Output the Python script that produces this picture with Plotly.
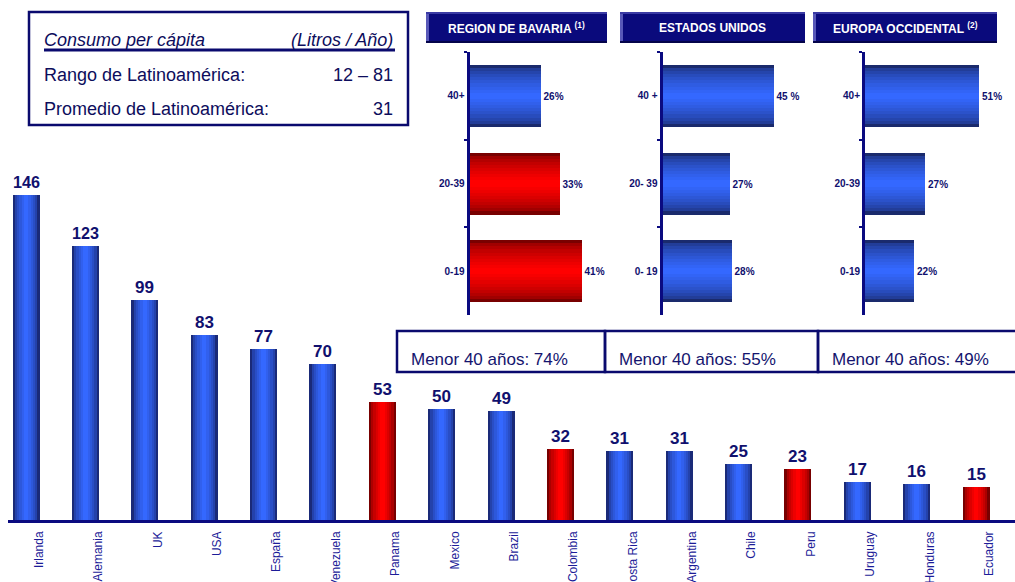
import plotly.graph_objects as go

W, H = 1015, 582

# ---------------- data ----------------
countries = ["Irlanda", "Alemania", "UK", "USA", "España", "Venezuela", "Panama", "Mexico",
             "Brazil", "Colombia", "Costa Rica", "Argentina", "Chile", "Peru", "Uruguay",
             "Honduras", "Ecuador"]
consumo = [146, 123, 99, 83, 77, 70, 53, 50, 49, 32, 31, 31, 25, 23, 17, 16, 15]
bavaria_countries = ["Panama", "Colombia", "Peru", "Ecuador"]

ages_bav = ["0-19", "20-39", "40+"]
share_bav = [41, 33, 26]
text_bav = ["41%", "33%", "26%"]
young_bav = [True, True, False]   # under-40 groups highlighted in red

ages_us = ["0- 19", "20- 39", "40 +"]
share_us = [28, 27, 45]
text_us = ["28%", "27%", "45 %"]
young_us = [False, False, False]

ages_eu = ["0-19", "20-39", "40+"]
share_eu = [22, 27, 51]
text_eu = ["22%", "27%", "51%"]
young_eu = [False, False, False]

panel_titles = ["REGION DE BAVARIA <sup>(1)</sup>", "ESTADOS UNIDOS", "EUROPA OCCIDENTAL <sup>(2)</sup>"]
menor40 = [74, 55, 49]

# ---------------- helpers ----------------
def px(x):
    return x / W

def py(y):
    return 1 - y / H

def hex2rgb(h):
    h = h.lstrip("#")
    return [int(h[i:i + 2], 16) for i in (0, 2, 4)]

def ramp(c0, c1, n, gamma=0.7):
    a, b = hex2rgb(c0), hex2rgb(c1)
    out = []
    for k in range(n):
        t = (k / (n - 1)) ** gamma if n > 1 else 1
        out.append("rgb(%d,%d,%d)" % tuple(round(a[i] + (b[i] - a[i]) * t) for i in range(3)))
    return out

NAVY = "#10106e"
FONT = "Arial, Liberation Sans, sans-serif"

fig = go.Figure()

# ---------------- main bar chart ----------------
main_scale = 59.375  # px per category
x0 = -18 / main_scale
x1 = x0 + (W - 8) / main_scale
n_main = 6
main_widths_px = [27 * (1 - k / n_main) for k in range(n_main)]
blue_main = ramp("#1a2a78", "#3468ff", n_main, 0.6)
red_main = ramp("#780000", "#ff0000", n_main, 0.6)

for li, wpx in enumerate(main_widths_px):
    colors = [red_main[li] if c in bavaria_countries else blue_main[li] for c in countries]
    fig.add_trace(go.Bar(
        x=countries, y=consumo, width=wpx / main_scale,
        marker=dict(color=colors, line=dict(width=0)),
        text=[str(v) for v in consumo] if li == 0 else None,
        textposition="outside" if li == 0 else "none",
        textfont=dict(family=FONT, size=17, color=NAVY, weight="bold"),
        cliponaxis=False, hoverinfo="skip", showlegend=False,
        xaxis="x", yaxis="y",
    ))

# invisible trace carrying the (slightly shifted) category labels
fig.add_trace(go.Scatter(x=countries, y=[0] * len(countries), mode="markers",
                         marker=dict(opacity=0), hoverinfo="skip", showlegend=False,
                         xaxis="x5", yaxis="y"))

# ---------------- small panels ----------------
panels = [
    (ages_bav, share_bav, text_bav, young_bav, 469.5, 2.72, 50, "x2", "y2"),
    (ages_us, share_us, text_us, young_us, 662.5, 2.47, 55, "x3", "y3"),
    (ages_eu, share_eu, text_eu, young_eu, 865, 2.24, 60, "x4", "y4"),
]
P_TOP, P_BOT = 52, 315
cat_px = (P_BOT - P_TOP) / 3
n_pan = 10
panel_widths_px = [62 * (1 - k / n_pan) for k in range(n_pan)]
blue_pan = ramp("#1a2a6c", "#3468ff", n_pan, 0.55)
red_pan = ramp("#780000", "#ff0000", n_pan, 0.55)

for ages, shares, texts, reds, start, scale, rng, xa, ya in panels:
    for li, wpx in enumerate(panel_widths_px):
        cols = [red_pan[li] if r else blue_pan[li] for r in reds]
        fig.add_trace(go.Bar(
            y=ages, x=shares, orientation="h", width=wpx / cat_px,
            marker=dict(color=cols, line=dict(width=0)),
            text=texts if li == 0 else None,
            textposition="outside" if li == 0 else "none",
            textfont=dict(family=FONT, size=10, color=NAVY, weight="bold"),
            cliponaxis=False, hoverinfo="skip", showlegend=False,
            xaxis=xa, yaxis=ya,
        ))

layout_axes = {}
layout_axes["xaxis"] = dict(domain=[px(8), 1], range=[x0, x1], type="category",
                            showticklabels=False, showline=True, linecolor="#0a0a80",
                            linewidth=3, showgrid=False, zeroline=False, ticks="",
                            automargin=False, fixedrange=True)
layout_axes["xaxis5"] = dict(domain=[px(8), 1], range=[x0 - 13 / main_scale, x1 - 13 / main_scale],
                             type="category", overlaying="x", anchor="y", side="bottom",
                             showline=False, showgrid=False, zeroline=False, ticks="",
                             tickangle=-90, ticklabelstandoff=8, automargin=False,
                             tickfont=dict(family=FONT, size=12, color="#1c1c98"))
layout_axes["yaxis"] = dict(domain=[py(520), 1], range=[0, 520 / 2.226], visible=False,
                            automargin=False)

for i, (ages, shares, texts, reds, start, scale, rng, xa, ya) in enumerate(panels):
    n = i + 2
    layout_axes[f"xaxis{n}"] = dict(domain=[px(start), px(start + scale * rng)], range=[0, rng],
                                    visible=False, anchor=ya, automargin=False)
    layout_axes[f"yaxis{n}"] = dict(domain=[py(P_BOT), py(P_TOP)], anchor=xa, type="category",
                                    categoryorder="array", categoryarray=ages,
                                    range=[-0.5, 2.5], showline=True, linecolor="#0a0a80",
                                    linewidth=3, ticks="outside", tickson="boundaries",
                                    ticklen=3, tickcolor="#0a0a80", tickwidth=2,
                                    showgrid=False, zeroline=False, automargin=False,
                                    tickfont=dict(family=FONT, size=10, color=NAVY, weight="bold"))

# ---------------- shapes & annotations ----------------
shapes = []
annotations = []

# top-left info box
shapes.append(dict(type="rect", xref="paper", yref="paper", x0=px(29), x1=px(408),
                   y0=py(125), y1=py(12), line=dict(color="#0a0a6e", width=2.5),
                   fillcolor="white", layer="below"))
shapes.append(dict(type="line", xref="paper", yref="paper", x0=px(44), x1=px(395),
                   y0=py(50), y1=py(50), line=dict(color="#0a0a6e", width=3)))
info_font = dict(family=FONT, size=18, color="#0d0d5c")
info = [
    dict(text="<i>Consumo per cápita</i>", x=px(42), y=py(40), xanchor="left"),
    dict(text="<i>(Litros / Año)</i>", x=px(395), y=py(40), xanchor="right"),
    dict(text="Rango de Latinoamérica:", x=px(42), y=py(75), xanchor="left"),
    dict(text="12 – 81", x=px(395), y=py(75), xanchor="right"),
    dict(text="Promedio de Latinoamérica:", x=px(42), y=py(109), xanchor="left"),
    dict(text="31", x=px(395), y=py(109), xanchor="right"),
]
for a in info:
    a.update(xref="paper", yref="paper", yanchor="middle", showarrow=False, font=info_font)
annotations += info

# panel headers
headers = [(426, 607), (620, 805), (813, 997)]
for (hx0, hx1), title in zip(headers, panel_titles):
    shapes.append(dict(type="rect", xref="paper", yref="paper", x0=px(hx0), x1=px(hx1),
                       y0=py(43), y1=py(12), line=dict(width=0), fillcolor="#0a0a7c"))
    shapes.append(dict(type="rect", xref="paper", yref="paper", x0=px(hx0), x1=px(hx0 + 3),
                       y0=py(43), y1=py(12), line=dict(width=0), fillcolor="#5858b8"))
    shapes.append(dict(type="rect", xref="paper", yref="paper", x0=px(hx0), x1=px(hx1),
                       y0=py(14), y1=py(12), line=dict(width=0), fillcolor="#3a3aa4"))
    shapes.append(dict(type="rect", xref="paper", yref="paper", x0=px(hx0), x1=px(hx1),
                       y0=py(43), y1=py(41), line=dict(width=0), fillcolor="#04044a"))
    annotations.append(dict(text=title, xref="paper", yref="paper",
                            x=px((hx0 + hx1) / 2), y=py(28), xanchor="center", yanchor="middle",
                            showarrow=False,
                            font=dict(family=FONT, size=12, color="white", weight="bold")))

# "Menor 40 años" boxes
boxes = [(397, 605), (605, 818), (818, 1018)]
for (bx0, bx1), val in zip(boxes, menor40):
    shapes.append(dict(type="rect", xref="paper", yref="paper", x0=px(bx0), x1=px(bx1),
                       y0=py(372), y1=py(331), line=dict(color="#0a0a6e", width=2.5),
                       fillcolor="rgba(0,0,0,0)"))
    annotations.append(dict(text=f"Menor 40 años: {val}%", xref="paper", yref="paper",
                            x=px(bx0 + 12), y=py(359), xanchor="left", yanchor="middle",
                            showarrow=False, font=dict(family=FONT, size=17, color="#14146e")))

fig.update_layout(
    width=W, height=H,
    margin=dict(l=0, r=0, t=0, b=0, autoexpand=False),
    paper_bgcolor="white", plot_bgcolor="rgba(0,0,0,0)",
    barmode="overlay", bargap=0,
    showlegend=False,
    shapes=shapes, annotations=annotations,
    font=dict(family=FONT),
    **layout_axes,
)

fig.write_html("out.html", config={"displayModeBar": False})
